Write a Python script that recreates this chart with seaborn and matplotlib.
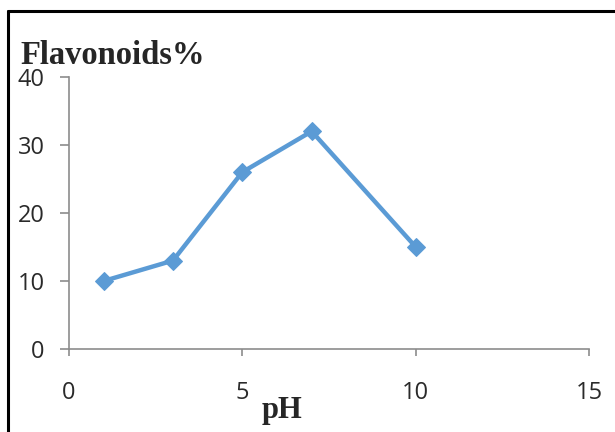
import matplotlib
matplotlib.use("Agg")
import matplotlib.pyplot as plt
import seaborn as sns
import pandas as pd
from matplotlib.lines import Line2D

# --- data ---
ph = [1, 3, 5, 7, 10]
flavonoids = [10, 13, 26, 32, 15]
x_ticks = [0, 5, 10, 15]
y_ticks = [0, 10, 20, 30, 40]

df = pd.DataFrame({"pH": ph, "Flavonoids": flavonoids})

sns.set_style("white")
plt.rcParams['font.family'] = ['Open Sans', 'DejaVu Sans']

fig = plt.figure(figsize=(6.15, 4.32), dpi=100)
ax = fig.add_axes([0.112, 0.192, 0.846, 0.630])

sns.lineplot(data=df, x="pH", y="Flavonoids", ax=ax, color="#5B9BD5",
             linewidth=3.2, marker="D", markersize=9, markeredgecolor="#5B9BD5")

ax.set_xlim(0, 15)
ax.set_ylim(0, 40)
ax.set_xticks(x_ticks)
ax.set_yticks(y_ticks)
ax.set_xlabel("")
ax.set_ylabel("")

for s in ["top", "right"]:
    ax.spines[s].set_visible(False)
for s in ["left", "bottom"]:
    ax.spines[s].set_color("#8c8c8c")
    ax.spines[s].set_linewidth(1.2)

ax.tick_params(axis="y", direction="out", length=6.5, width=1.2, color="#8c8c8c",
               pad=11, labelsize=17, labelcolor="#2a2a2a", left=True)
ax.tick_params(axis="x", direction="out", length=5, width=1.2, color="#8c8c8c",
               pad=18, labelsize=17, labelcolor="#2a2a2a", bottom=True)

# title and axis label as in the original (bold serif)
fig.text(20 / 615, 1 - 64 / 432, "Flavonoids%", family="Liberation Serif",
         fontweight="bold", fontsize=23.5, ha="left", va="baseline")
fig.text(282 / 615, 1 - 418 / 432, "pH", family="Liberation Serif",
         fontweight="bold", fontsize=22, ha="center", va="baseline")

# partial frame around the figure
fig.add_artist(Line2D([8 / 615, 1], [1 - 11 / 432, 1 - 11 / 432],
                      transform=fig.transFigure, color="black", linewidth=2.2))
fig.add_artist(Line2D([8 / 615, 8 / 615], [0, 1 - 11 / 432],
                      transform=fig.transFigure, color="black", linewidth=2.2))

fig.savefig("out.png", dpi=100)
